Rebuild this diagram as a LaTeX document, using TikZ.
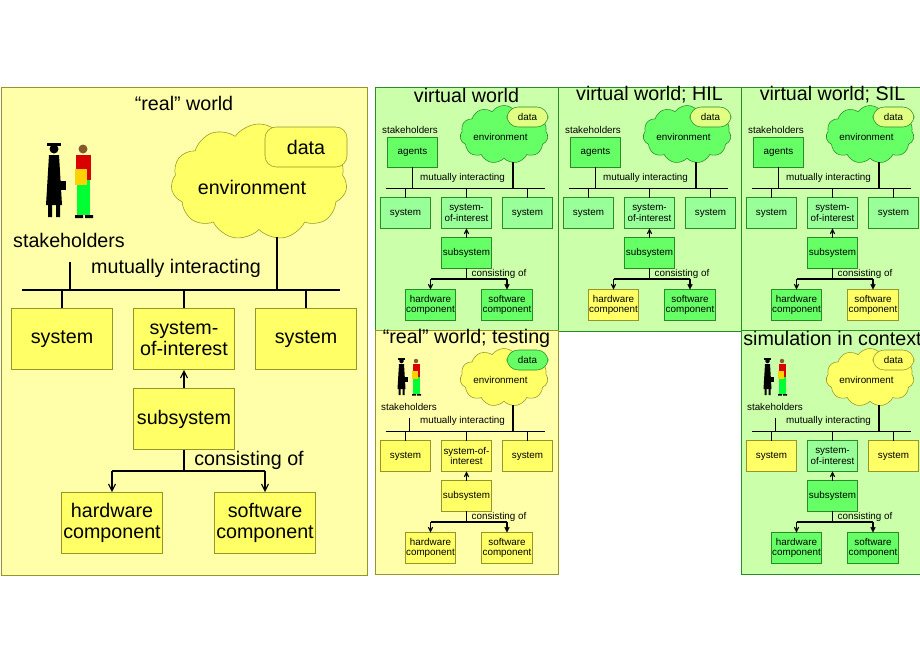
\documentclass[tikz,border=0pt]{standalone}
\usepackage{fontspec}
\setmainfont{Liberation Sans}
\usetikzlibrary{shapes.symbols,arrows.meta}

\definecolor{ybg}{RGB}{255,255,170}
\definecolor{yfill}{RGB}{255,255,102}
\definecolor{yline}{RGB}{150,150,40}
\definecolor{gbg}{RGB}{204,255,170}
\definecolor{gfill}{RGB}{102,255,102}
\definecolor{lgfill}{RGB}{153,255,153}
\definecolor{gline}{RGB}{40,140,40}
\definecolor{dfill}{RGB}{225,255,130}

\tikzset{
  txt/.style={font=\fontsize{14}{15}\selectfont, align=center},
  box/.style={txt, minimum width=2.525cm, minimum height=1.525cm, inner sep=1pt},
  ybox/.style={fill=yfill, draw=yline},
  gbox/.style={fill=gfill, draw=gline},
  lgbox/.style={fill=lgfill, draw=gline},
  dbox/.style={fill=dfill, draw=gline},
  ypanel/.style={fill=ybg, draw=yline},
  gpanel/.style={fill=gbg, draw=gline},
  bar/.style={black, line width=0.8pt},
}

% #1 prefix, #2 title, #3 people/agents, #4 title size, #5 tip length
\newcommand\panel[5]{%
  \draw[pnl] (0,0) rectangle (366,488);
  \node[txt, font=\fontsize{#4}{#4}\selectfont] (#1-title) at (183,16) {#2};
  % stakeholders
  \ifx#3p
    \fill[black] (53,62) circle (4.5);
    \fill[black] (46,56) rectangle (60,59);
    \fill[black] (48,68) -- (58,68) -- (61,118) -- (45,118) -- cycle;
    \fill[black] (47,118) rectangle (51,130) (55,118) rectangle (59,130);
    \fill[black] (58,94) rectangle (65,103);
    \fill[brown!70!black] (82,62) circle (4.5);
    \fill[red!85!black] (75,68) rectangle (90,93);
    \fill[green!80!cyan] (76,93) rectangle (89,128);
    \fill[yellow!70!orange] (74,82) rectangle (86,98);
    \fill[black] (74,128) rectangle (82,131) (84,128) rectangle (92,131);
    \node[txt] (#1-stk) at (68,153) {stakeholders};
    \coordinate (#1-s) at (69,175);
  \else
    \node[txt] (#1-lbl) at (70,86) {stakeholders};
    \node[box, gbox, minimum height=1.5cm] (#1-s) at (75,130) {agents};
  \fi
  % environment
  \node[cloud, cloud puffs=11, cloud puff arc=110, aspect=1.6, envc,
        minimum width=4.4cm, minimum height=2.9cm] (#1-env) at (258,95) {};
  \node[datac, txt, rounded corners=8pt, minimum width=2.05cm,
        minimum height=1cm] (#1-data) at (305,60) {data};
  \node[txt] (#1-envl) at (251,100) {environment};
  \coordinate (#1-c) at (276,150);
  % bus
  \node[txt] (#1-mut) at (175,181) {mutually interacting};
  \coordinate (#1-bl) at (21,203);
  \coordinate (#1-br) at (339,203);
  \draw[bar] (#1-bl) -- (#1-br);
  \draw[bar] (#1-s.south) -- (#1-s.south |- #1-bl);
  \draw[bar] (#1-c) -- (#1-c |- #1-bl);
  % systems
  \node[box, sysc] (#1-sys1) at (61,252) {system};
  \node[box, soic] (#1-soi) at (183,252) {\soitext};
  \node[box, sysc] (#1-sys2) at (305,252) {system};
  \foreach \n in {sys1,soi,sys2}
    \draw[bar] (#1-\n.north) -- (#1-\n.north |- #1-bl);
  \node[box, subc] (#1-sub) at (183,332) {subsystem};
  \draw[bar, -{Straight Barb[length=#5, width=#5]}] (#1-sub) -- (#1-soi);
  % components
  \node[txt] (#1-cons) at (248,373) {consisting of};
  \coordinate (#1-j) at (183,384);
  \node[box, hwc] (#1-hw) at (111,436) {hardware\\component};
  \node[box, swc] (#1-sw) at (264,436) {software\\component};
  \draw[bar] (#1-sub) -- (#1-j);
  \draw[bar] (#1-hw.north |- #1-j) -- (#1-sw.north |- #1-j);
  \foreach \n in {hw,sw}
    \draw[bar, -{Straight Barb[length=#5, width=#5]}] (#1-\n.north |- #1-j) -- (#1-\n.north);
}

\begin{document}
\begin{tikzpicture}[x=0.025cm, y=-0.025cm]
  \useasboundingbox (0,0) rectangle (920,660);

  % "real" world
  \def\soitext{system-\\of-interest}
  \tikzset{pnl/.style=ypanel, envc/.style=ybox, datac/.style=ybox, sysc/.style=ybox,
    soic/.style=ybox, subc/.style=ybox, hwc/.style=ybox, swc/.style=ybox}
  \begin{scope}[shift={(1,87)}]
    \panel{rw}{``real'' world}{p}{14}{5pt}
  \end{scope}

  % virtual world
  \tikzset{pnl/.style=gpanel, envc/.style=gbox, datac/.style=dbox, sysc/.style=lgbox,
    soic/.style=lgbox, subc/.style=gbox, hwc/.style=gbox, swc/.style=gbox}
  \begin{scope}[shift={(375,87)}, scale=0.5, transform shape]
    \panel{vw}{virtual world}{a}{28}{3pt}
  \end{scope}

  % HIL
  \tikzset{hwc/.style=ybox, swc/.style=gbox}
  \begin{scope}[shift={(558,87)}, scale=0.5, transform shape]
    \panel{hil}{virtual world; HIL}{a}{28}{3pt}
  \end{scope}

  % SIL
  \tikzset{hwc/.style=gbox, swc/.style=ybox}
  \begin{scope}[shift={(741,87)}, scale=0.5, transform shape]
    \panel{sil}{virtual world; SIL}{a}{28}{3pt}
  \end{scope}

  % "real" world; testing
  \def\soitext{system-of-\\interest}
  \tikzset{pnl/.style=ypanel, envc/.style=ybox, datac/.style=gbox, sysc/.style=ybox,
    soic/.style=ybox, subc/.style=ybox, hwc/.style=ybox, swc/.style=ybox}
  \begin{scope}[shift={(375,330)}, scale=0.5, transform shape]
    \panel{rwt}{``real'' world; testing}{p}{28}{3pt}
  \end{scope}

  % simulation in context
  \def\soitext{system-\\of-interest}
  \tikzset{pnl/.style=gpanel, envc/.style=ybox, datac/.style=ybox, sysc/.style=ybox,
    soic/.style=lgbox, subc/.style=gbox, hwc/.style=gbox, swc/.style=gbox}
  \begin{scope}[shift={(741,330)}, scale=0.5, transform shape]
    \panel{sim}{simulation in context}{p}{28}{3pt}
  \end{scope}
\end{tikzpicture}
\end{document}
